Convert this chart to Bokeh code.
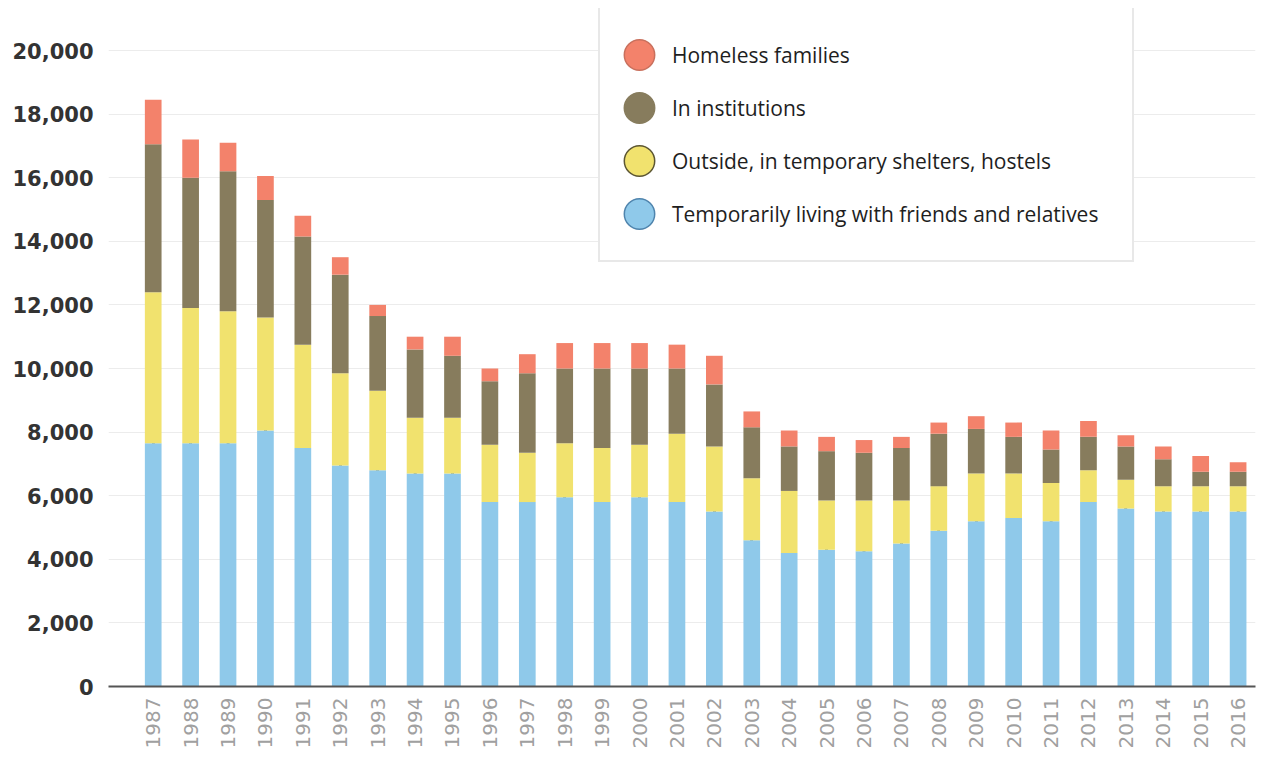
from math import pi
from bokeh.plotting import figure
from bokeh.models import (ColumnDataSource, Legend, LegendItem, FixedTicker,
                          NumeralTickFormatter, Range1d)
from bokeh.embed import file_html
from bokeh.resources import INLINE

years = [1987, 1988, 1989, 1990, 1991, 1992, 1993, 1994, 1995, 1996,
         1997, 1998, 1999, 2000, 2001, 2002, 2003, 2004, 2005, 2006,
         2007, 2008, 2009, 2010, 2011, 2012, 2013, 2014, 2015, 2016]

# Temporarily living with friends and relatives
friends = [7650, 7650, 7650, 8050, 7500, 6950, 6800, 6700, 6700, 5800,
           5800, 5950, 5800, 5950, 5800, 5500, 4600, 4200, 4300, 4250,
           4500, 4900, 5200, 5300, 5200, 5800, 5600, 5500, 5500, 5500]
# Outside, in temporary shelters, hostels
shelters = [4750, 4250, 4150, 3550, 3250, 2900, 2500, 1750, 1750, 1800,
            1550, 1700, 1700, 1650, 2150, 2050, 1950, 1950, 1550, 1600,
            1350, 1400, 1500, 1400, 1200, 1000, 900, 800, 800, 800]
# In institutions
institutions = [4650, 4100, 4400, 3700, 3400, 3100, 2350, 2150, 1950, 2000,
                2500, 2350, 2500, 2400, 2050, 1950, 1600, 1400, 1550, 1500,
                1650, 1650, 1400, 1150, 1050, 1050, 1050, 850, 450, 450]
# Homeless families
families = [1400, 1200, 900, 750, 650, 550, 350, 400, 600, 400,
            600, 800, 800, 800, 750, 900, 500, 500, 450, 400,
            350, 350, 400, 450, 600, 500, 350, 400, 500, 300]

series = ["friends", "shelters", "institutions", "families"]
labels = ["Temporarily living with friends and relatives",
          "Outside, in temporary shelters, hostels",
          "In institutions",
          "Homeless families"]
y_ticks = [0, 2000, 4000, 6000, 8000, 10000, 12000, 14000, 16000, 18000, 20000]

colors = ["#8fc9ea", "#f1e26e", "#877c5d", "#f3826b"]
outline = ["#4f84ad", "#5c5632", "#877c5d", "#c9705d"]

source = ColumnDataSource(data=dict(year=years, friends=friends, shelters=shelters,
                                    institutions=institutions, families=families))

p = figure(width=1262, height=759, output_backend="svg", toolbar_location=None,
           x_range=Range1d(1985.805, 2016.465), y_range=Range1d(0, 21321),
           min_border_left=108, min_border_right=7, min_border_top=8,
           min_border_bottom=73, outline_line_color=None)

# legend proxies (tiny ellipses hidden underneath the bars)
items = []
for i in [3, 2, 1, 0]:
    r = p.ellipse(x="year", y="friends", width=1, height=1,
                  width_units="screen", height_units="screen", source=source,
                  fill_color=colors[i], line_color=outline[i], line_width=1.5,
                  level="underlay")
    items.append(LegendItem(label=labels[i], renderers=[r]))

p.vbar_stack(series, x="year", width=0.446, color=colors, line_color=None,
             source=source)

legend = Legend(items=items, location=(490, 424), orientation="vertical",
                glyph_width=38, glyph_height=53, spacing=0, padding=20,
                margin=0, label_standoff=14, label_width=440,
                label_text_font="Open Sans", label_text_font_size="21px",
                label_text_color="#1e1e1e",
                border_line_color="#d2d2d2", border_line_width=2,
                background_fill_color="white", background_fill_alpha=1)
p.add_layout(legend, "center")

p.xaxis.ticker = FixedTicker(ticks=years)
p.xaxis.major_label_orientation = pi / 2
p.xaxis.major_tick_line_color = None
p.xaxis.major_tick_out = 0
p.xaxis.major_tick_in = 0
p.xaxis.minor_tick_line_color = None
p.xaxis.axis_line_color = "#555555"
p.xaxis.axis_line_width = 2
p.xaxis.major_label_text_font = "DejaVu Sans"
p.xaxis.major_label_text_font_size = "20px"
p.xaxis.major_label_text_color = "#a0a0a0"
p.xaxis.major_label_standoff = 11

p.yaxis.ticker = FixedTicker(ticks=y_ticks)
p.yaxis.formatter = NumeralTickFormatter(format="0,0")
p.yaxis.axis_line_color = None
p.yaxis.major_tick_line_color = None
p.yaxis.major_tick_out = 0
p.yaxis.major_tick_in = 0
p.yaxis.minor_tick_line_color = None
p.yaxis.major_label_text_font = "DejaVu Sans"
p.yaxis.major_label_text_font_style = "bold"
p.yaxis.major_label_text_font_size = "21px"
p.yaxis.major_label_text_color = "#333333"
p.yaxis.major_label_standoff = 15

p.xgrid.grid_line_color = None
p.ygrid.grid_line_color = "#ececec"
p.ygrid.grid_line_width = 1

open("out.html", "w").write(file_html(p, INLINE))
